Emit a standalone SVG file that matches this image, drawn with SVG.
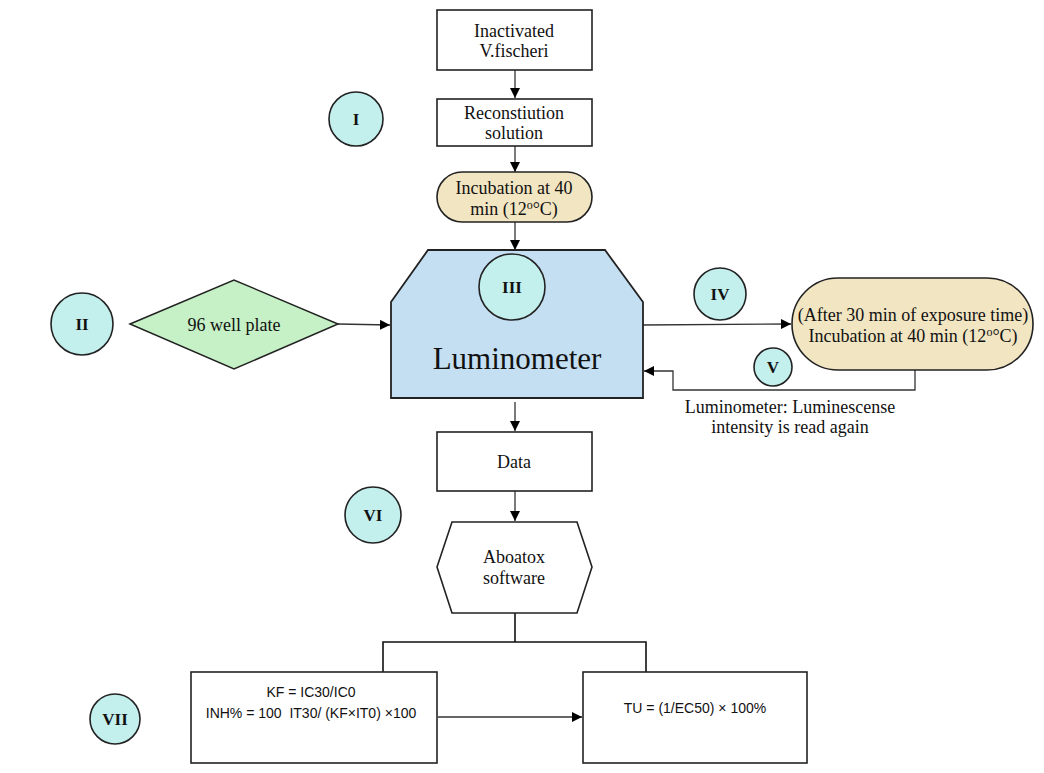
<svg xmlns="http://www.w3.org/2000/svg" width="1044" height="773" viewBox="0 0 1044 773">
<style>
.box{fill:#fff;stroke:#222;stroke-width:1.6}
.pill{fill:#f1e5c2;stroke:#222;stroke-width:1.6}
.circ{fill:#c3efed;stroke:#222;stroke-width:1.6}
.t{font-family:"Liberation Serif",serif;font-size:18px;fill:#111;text-anchor:middle}
.rn{font-family:"Liberation Serif",serif;font-size:17px;font-weight:bold;fill:#111;text-anchor:middle}
.s{font-family:"Liberation Sans",sans-serif;font-size:14px;fill:#111;text-anchor:middle}
.c{fill:none;stroke:#333;stroke-width:1.3}
</style>
<defs>
<marker id="ah" viewBox="0 0 10 10" refX="10" refY="5" markerWidth="10" markerHeight="10" markerUnits="userSpaceOnUse" orient="auto">
<path d="M0,0 L10,5 L0,10 z" fill="#000"/>
</marker>
</defs>
<rect width="1044" height="773" fill="#fff"/>
<g id="connectors">
<line class="c" x1="515" y1="70" x2="515" y2="98" marker-end="url(#ah)"/>
<line class="c" x1="515" y1="146" x2="515" y2="172" marker-end="url(#ah)"/>
<line class="c" x1="515" y1="222" x2="515" y2="250" marker-end="url(#ah)"/>
<line class="c" x1="338" y1="324" x2="390" y2="325" marker-end="url(#ah)"/>
<line class="c" x1="643" y1="325" x2="791" y2="324" marker-end="url(#ah)"/>
<polyline class="c" points="915,370 915,390 673,390 673,371 644,371" marker-end="url(#ah)"/>
<line class="c" x1="515" y1="402" x2="515" y2="431" marker-end="url(#ah)"/>
<line class="c" x1="515" y1="491" x2="515" y2="521" marker-end="url(#ah)"/>
<polyline class="c" points="515,613 515,642" style="stroke:#111;stroke-width:1.6"/>
<polyline class="c" points="383,672 383,642 646,642 646,672" style="stroke:#111;stroke-width:1.6"/>
<line class="c" x1="438" y1="717" x2="582" y2="717" marker-end="url(#ah)"/>
</g>
<g id="inactivated">
<rect class="box" x="437" y="10" width="155" height="60"/>
<text class="t" x="514" y="37">Inactivated</text>
<text class="t" x="514" y="57">V.fischeri</text>
</g>
<g id="reconstitution">
<rect class="box" x="437" y="99" width="155" height="47"/>
<text class="t" x="514" y="119">Reconstiution</text>
<text class="t" x="514" y="139">solution</text>
</g>
<g id="incubation1">
<rect class="pill" x="437" y="172" width="155" height="50" rx="25" ry="25"/>
<text class="t" x="514" y="194">Incubation at 40</text>
<text class="t" x="514" y="215">min (12<tspan font-size="12" dy="-6">o</tspan><tspan dy="6">°C)</tspan></text>
</g>
<g id="luminometer">
<path d="M428,250 L605,250 L643,302 L643,398 L391,398 L391,302 Z" fill="#c5dff2" stroke="#222" stroke-width="1.8"/>
<text x="517" y="369" font-family="Liberation Serif, serif" font-size="31" fill="#111" text-anchor="middle">Luminometer</text>
</g>
<g id="circleIII">
<circle class="circ" cx="512" cy="287" r="33"/>
<text class="rn" x="512" y="293">III</text>
</g>
<g id="wellplate">
<polygon points="130,324 234,280 338,324 234,369" fill="#c6f0c6" stroke="#222" stroke-width="1.5"/>
<text class="t" x="234" y="331">96 well plate</text>
</g>
<g id="circleII">
<circle class="circ" cx="82" cy="324" r="31"/>
<text class="rn" x="82" y="330">II</text>
</g>
<g id="circleI">
<circle class="circ" cx="356" cy="119" r="27"/>
<text class="rn" x="356" y="125">I</text>
</g>
<g id="circleIV">
<circle class="circ" cx="720" cy="294" r="26"/>
<text class="rn" x="720" y="300">IV</text>
</g>
<g id="incubation2">
<rect class="pill" x="792" y="278" width="241" height="92" rx="46" ry="46"/>
<text class="t" x="913" y="321">(After 30 min of exposure time)</text>
<text class="t" x="913" y="342">Incubation at 40 min (12<tspan font-size="12" dy="-6">o</tspan><tspan dy="6">°C)</tspan></text>
</g>
<g id="circleV">
<circle class="circ" cx="773" cy="367" r="19"/>
<text class="rn" x="773" y="373">V</text>
</g>
<g id="readlabel">
<text class="t" x="790" y="413">Luminometer: Luminescense</text>
<text class="t" x="790" y="433">intensity is read again</text>
</g>
<g id="data">
<rect class="box" x="437" y="432" width="155" height="59"/>
<text class="t" x="514" y="468">Data</text>
</g>
<g id="circleVI">
<circle class="circ" cx="373" cy="515" r="28"/>
<text class="rn" x="373" y="521">VI</text>
</g>
<g id="software">
<polygon points="452,522 577,522 592,567 577,613 452,613 437,567" fill="#fff" stroke="#222" stroke-width="1.6"/>
<text class="t" x="514" y="563">Aboatox</text>
<text class="t" x="514" y="584">software</text>
</g>
<g id="kfbox">
<rect class="box" x="191" y="672" width="246" height="91"/>
<text class="s" x="311" y="697">KF = IC30/IC0</text>
<text class="s" x="311" y="718" xml:space="preserve">INH% = 100  IT30/ (KF×IT0) ×100</text>
</g>
<g id="tubox">
<rect class="box" x="583" y="672" width="224" height="91"/>
<text class="s" x="695" y="713">TU = (1/EC50) × 100%</text>
</g>
<g id="circleVII">
<circle class="circ" cx="115" cy="719" r="25"/>
<text class="rn" x="115" y="725">VII</text>
</g>
</svg>
